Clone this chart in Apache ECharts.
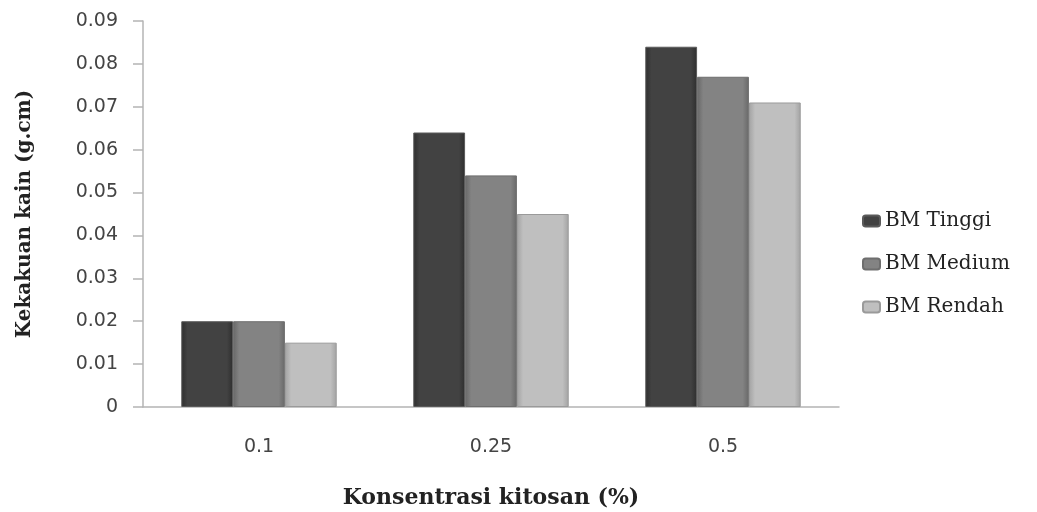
<!DOCTYPE html>
<html>
<head>
<meta charset="utf-8">
<script src="https://cdn.jsdelivr.net/npm/echarts@6/dist/echarts.min.js"></script>
<style>
  html, body { margin: 0; padding: 0; background: #ffffff; }
  #chart { width: 1037px; height: 512px; }
</style>
</head>
<body>
<div id="chart"></div>
<script>
// Chitosan concentration (%) on the x axis
const categories = ['0.1', '0.25', '0.5'];

// Fabric stiffness (g.cm) per chitosan molecular weight
const seriesNames = ['BM Tinggi', 'BM Medium', 'BM Rendah'];
const bmTinggi = [0.020, 0.064, 0.084];
const bmMedium = [0.020, 0.054, 0.077];
const bmRendah = [0.015, 0.045, 0.071];

const yTicks = [0, 0.01, 0.02, 0.03, 0.04, 0.05, 0.06, 0.07, 0.08, 0.09];

const palettes = [
  { edge: '#2e2e2e', mid: '#424242', border: '#5a5a5a' },
  { edge: '#686868', mid: '#838383', border: '#6e6e6e' },
  { edge: '#a2a2a2', mid: '#bfbfbf', border: '#9a9a9a' }
];

function barStyle(p) {
  return {
    color: new echarts.graphic.LinearGradient(0, 0, 1, 0, [
      { offset: 0, color: p.edge },
      { offset: 0.12, color: p.mid },
      { offset: 0.88, color: p.mid },
      { offset: 1, color: p.edge }
    ]),
    borderColor: p.border,
    borderWidth: 1
  };
}

const seriesData = [bmTinggi, bmMedium, bmRendah];

const chart = echarts.init(document.getElementById('chart'));
chart.setOption({
  animation: false,
  backgroundColor: '#ffffff',
  grid: { left: 143, top: 21, width: 696, height: 386, containLabel: false, outerBoundsMode: 'none' },
  legend: {
    orient: 'vertical',
    left: 857,
    top: 206,
    itemWidth: 17,
    itemHeight: 11,
    itemGap: 23,
    data: seriesNames,
    textStyle: { fontFamily: 'DejaVu Serif', fontSize: 20, color: '#222222' }
  },
  xAxis: {
    type: 'category',
    data: categories,
    name: 'Konsentrasi kitosan (%)',
    nameLocation: 'middle',
    nameGap: 80,
    nameTextStyle: { fontFamily: 'DejaVu Serif', fontWeight: 'bold', fontSize: 22, color: '#222222' },
    axisLine: { lineStyle: { color: '#b4b4b4', width: 1.5 } },
    axisTick: { show: false },
    axisLabel: { margin: 31, fontFamily: 'DejaVu Sans', fontSize: 19, color: '#444444' }
  },
  yAxis: {
    type: 'value',
    min: 0,
    max: 0.09,
    interval: 0.01,
    name: 'Kekakuan kain (g.cm)',
    nameLocation: 'middle',
    nameGap: 108,
    nameRotate: 90,
    nameTextStyle: { fontFamily: 'DejaVu Serif', fontWeight: 'bold', fontSize: 20, color: '#222222' },
    axisLine: { show: true, lineStyle: { color: '#b4b4b4', width: 1.5 } },
    axisTick: { show: true, inside: false, length: 10, lineStyle: { color: '#b4b4b4', width: 1.5 } },
    splitLine: { show: false },
    axisLabel: {
      margin: 25,
      fontFamily: 'DejaVu Sans',
      fontSize: 19,
      color: '#444444',
      formatter: function (v) {
        const t = yTicks.find(function (x) { return Math.abs(x - v) < 1e-9; });
        return t === 0 ? '0' : String(+(t !== undefined ? t : v).toFixed(2));
      }
    }
  },
  series: seriesNames.map(function (name, i) {
    return {
      name: name,
      type: 'bar',
      data: seriesData[i],
      barGap: '0%',
      barCategoryGap: '33%',
      itemStyle: barStyle(palettes[i])
    };
  })
});
</script>
</body>
</html>
